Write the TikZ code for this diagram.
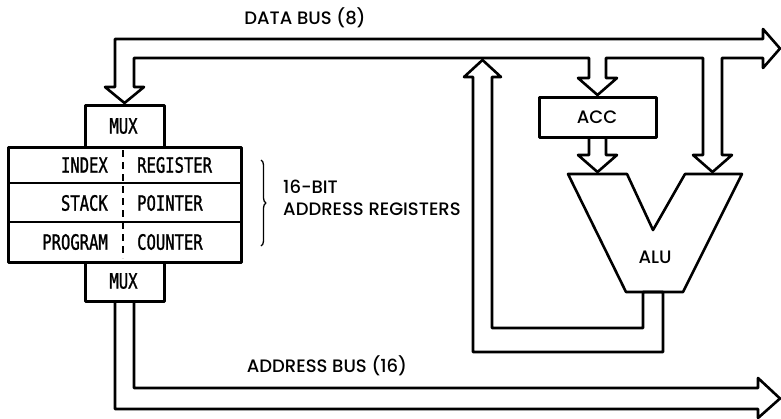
\documentclass[tikz,border=0pt]{standalone}
\usepackage{fontspec}
\setmainfont{Poppins}[UprightFont=* Medium]
\newfontfamily\regfont[FakeStretch=0.74,FakeBold=1.2]{DejaVu Sans Mono}
\usetikzlibrary{decorations.pathreplacing}
\begin{document}
\begin{tikzpicture}[x=1pt,y=-1pt,line join=round,
  bus/.style={draw,line width=2.6pt},
  box/.style={draw,line width=2.6pt,inner sep=0pt},
  lab/.style={font=\fontsize{18}{20}\selectfont,inner sep=0pt},
  reg/.style={font=\regfont\fontsize{21}{23}\selectfont,inner sep=0pt}]
\useasboundingbox (0,0) rectangle (781,418);
% boxes
\node[box,minimum width=79pt,minimum height=42pt,anchor=north west] (muxtop) at (84,104) {};
\node[reg] (muxtopt) at (123.5,126) {MUX};
\node[box,minimum width=79pt,minimum height=39pt,anchor=north west] (muxbot) at (84,261) {};
\node[reg] (muxbott) at (123.5,281) {MUX};
\node[box,minimum width=233pt,minimum height=115pt,anchor=north west] (regs) at (7,146) {};
\draw[line width=2.6pt] (7,183) -- (240,183) (7,222) -- (240,222);
\draw[line width=1.6pt,dash pattern=on 7pt off 5pt] (123,150) -- (123,258);
\node[reg,anchor=east] (r1a) at (108,165) {INDEX};
\node[reg,anchor=west] (r1b) at (137,165) {REGISTER};
\node[reg,anchor=east] (r2a) at (108,203) {STACK};
\node[reg,anchor=west] (r2b) at (137,203) {POINTER};
\node[reg,anchor=east] (r3a) at (108,242) {PROGRAM};
\node[reg,anchor=west] (r3b) at (137,242) {COUNTER};
\node[box,minimum width=117pt,minimum height=40pt,anchor=north west] (acc) at (538,96) {};
\node[lab] (acct) at (597,117) {ACC};
% ALU
\draw[line width=2.6pt] (568,174) -- (627,174) -- (653,230) -- (685,174) -- (742,174) -- (683,292) -- (626,292) -- cycle;
\node[lab] (alu) at (655,257) {ALU};
% data bus
\draw[bus] (124.5,103) -- (105,87) -- (115,87) -- (115,39) -- (763,39) -- (763,29) -- (780,48.5) -- (763,68) -- (763,58) -- (722,58) -- (722,155) -- (732,155) -- (712.5,172) -- (693,155) -- (703,155) -- (703,58) -- (606,58) -- (606,78) -- (617,78) -- (597.5,95) -- (578,78) -- (589,78) -- (589,58) -- (134,58) -- (134,87) -- (144,87) -- cycle;
% ACC to ALU
\draw[bus] (589,136) -- (589,155) -- (578,155) -- (597.5,172) -- (617,155) -- (606,155) -- (606,136);
% ALU back to data bus
\draw[bus] (482.5,60) -- (501,77) -- (492,77) -- (492,328) -- (643,328) -- (643,292) -- (663,292) -- (663,352) -- (473,352) -- (473,77) -- (464,77) -- cycle;
% address bus
\draw[bus] (115,300) -- (115,409) -- (758,409) -- (758,418) -- (780,398.5) -- (758,378) -- (758,388) -- (134,388) -- (134,300);
% labels
\node[lab] (db) at (305,18) {DATA BUS (8)};
\node[lab] (ab) at (327,366) {ADDRESS BUS (16)};
\node[lab,anchor=west] (b16) at (283,187) {16-BIT};
\node[lab,anchor=west] (areg) at (283,209) {ADDRESS REGISTERS};
\draw[line width=1.3pt,decorate,decoration={brace,amplitude=5pt}] (261,160) -- (261,246);
\end{tikzpicture}
\end{document}
